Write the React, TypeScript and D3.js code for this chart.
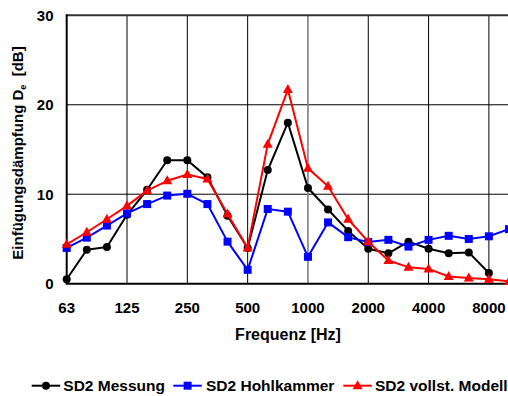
import * as d3 from 'd3';

const freqs = ['63', '80', '100', '125', '160', '200', '250', '315', '400', '500', '630', '800', '1000', '1250', '1600', '2000', '2500', '3150', '4000', '5000', '6300', '8000', '10000'];
const tickFreqs = ['63', '125', '250', '500', '1000', '2000', '4000', '8000'];
const yTicks = [0, 10, 20, 30];

const messung = [0.5, 3.8, 4.1, 7.7, 10.5, 13.8, 13.8, 11.9, 7.6, 4.0, 12.7, 18.0, 10.7, 8.3, 5.9, 3.9, 3.4, 4.7, 3.9, 3.4, 3.5, 1.2];
const hohlkammer = [4.0, 5.15, 6.5, 7.85, 8.9, 9.85, 10.05, 8.9, 4.7, 1.55, 8.35, 8.05, 3.0, 6.85, 5.2, 4.65, 4.9, 4.15, 4.9, 5.35, 5.0, 5.3, 6.1];
const modell = [4.4, 5.75, 7.2, 8.7, 10.4, 11.5, 12.2, 11.7, 7.8, 4.0, 15.6, 21.7, 12.9, 10.9, 7.2, 4.7, 2.6, 1.85, 1.65, 0.8, 0.65, 0.5, 0.25];

const series = [
  { name: 'SD2 Messung', color: '#000000', marker: 'circle', values: messung },
  { name: 'SD2 Hohlkammer', color: '#0000ff', marker: 'square', values: hohlkammer },
  { name: 'SD2 vollst. Modell', color: '#ff0000', marker: 'triangle', values: modell },
];

const width = 508;
const height = 396;
const margin = { top: 15.3, right: -1, bottom: 112.3, left: 66.7 };
const font = '"Liberation Sans", Arial, sans-serif';

function Marker({ type, x, y, color }: { type: string; x: number; y: number; color: string }) {
  if (type === 'circle') return <circle cx={x} cy={y} r={4} fill={color} />;
  if (type === 'square') return <rect x={x - 4} y={y - 4} width={8} height={8} fill={color} />;
  return <path d={`M${x},${y - 5.5}L${x + 5},${y + 3.5}L${x - 5},${y + 3.5}Z`} fill={color} />;
}

export default function App() {
  const x = d3
    .scalePoint<string>()
    .domain(freqs)
    .range([margin.left, width - margin.right]);

  const y = d3
    .scaleLinear()
    .domain([0, 30])
    .range([height - margin.bottom, margin.top]);

  const x0 = x('63') as number;
  const x1 = width - margin.right;

  return (
    <div style={{ position: 'fixed', left: 0, top: 0 }}>
      <svg width={width} height={height} viewBox={`0 0 ${width} ${height}`} style={{ display: 'block', background: '#fff' }}>
        {/* grid */}
        {yTicks.slice(1, 3).map((t) => (
          <line key={t} x1={x0} x2={x1} y1={y(t)} y2={y(t)} stroke="#000" strokeWidth={1} />
        ))}
        {tickFreqs.slice(1).map((f) => (
          <line
            key={f}
            x1={x(f)}
            x2={x(f)}
            y1={y(0)}
            y2={y(30)}
            stroke={f === '1000' ? '#808080' : '#000'}
            strokeWidth={f === '1000' ? 1.6 : 1}
          />
        ))}
        <line x1={x0} x2={x1} y1={y(30)} y2={y(30)} stroke="#333" strokeWidth={2} />
        <line x1={x0} x2={x0} y1={y(0)} y2={y(30) - 1} stroke="#000" strokeWidth={2} />
        <line x1={x0 - 1} x2={x1} y1={y(0)} y2={y(0)} stroke="#000" strokeWidth={2} />

        {/* series */}
        {series.map((s) => {
          const line = d3
            .line<number>()
            .x((_, i) => x(freqs[i]) as number)
            .y((d) => y(d));
          return (
            <g key={s.name}>
              <path d={line(s.values) as string} fill="none" stroke={s.color} strokeWidth={2} strokeLinejoin="round" />
              {s.values.map((v, i) => (
                <Marker key={i} type={s.marker} x={x(freqs[i]) as number} y={y(v)} color={s.color} />
              ))}
            </g>
          );
        })}

        {/* y tick labels */}
        {yTicks.map((t) => (
          <text key={t} x={53.5} y={y(t) + 5.3} textAnchor="end" fontFamily={font} fontWeight="bold" fontSize={15}>
            {t}
          </text>
        ))}
        {/* x tick labels */}
        {tickFreqs.map((f) => (
          <text key={f} x={x(f)} y={312.5} textAnchor="middle" fontFamily={font} fontWeight="bold" fontSize={15}>
            {f}
          </text>
        ))}

        <text x={288} y={339.5} textAnchor="middle" fontFamily={font} fontWeight="bold" fontSize={16}>
          Frequenz [Hz]
        </text>
        <text
          transform="translate(23,153) rotate(-90)"
          textAnchor="middle"
          fontFamily={font}
          fontWeight="bold"
          fontSize={15}
        >
          Einfügungsdämpfung D
          <tspan fontSize={9} dy={3}>e</tspan>
          <tspan dy={-3} xmlSpace="preserve">{'  [dB]'}</tspan>
        </text>

        {/* legend */}
        {[
          { s: series[0], lx: 31.7, tx: 63.3 },
          { s: series[1], lx: 173.3, tx: 206 },
          { s: series[2], lx: 343.3, tx: 375 },
        ].map(({ s, lx, tx }) => (
          <g key={s.name}>
            <line x1={lx} x2={lx + 28.5} y1={385.7} y2={385.7} stroke={s.color} strokeWidth={2} />
            <Marker type={s.marker} x={lx + 14.3} y={385.7} color={s.color} />
            <text x={tx} y={391.2} fontFamily={font} fontWeight="bold" fontSize={15.5}>
              {s.name}
            </text>
          </g>
        ))}
      </svg>
    </div>
  );
}
